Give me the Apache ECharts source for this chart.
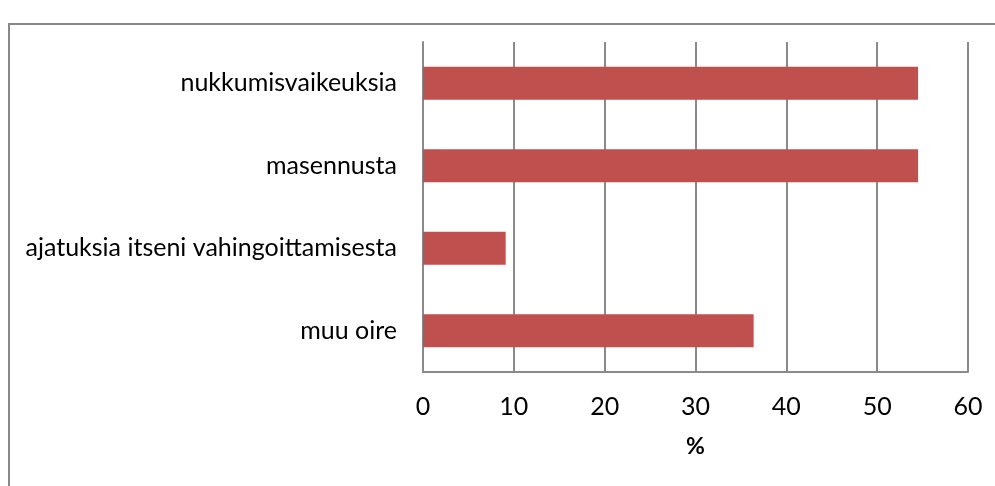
<!DOCTYPE html>
<html>
<head>
<meta charset="utf-8">
<script src="https://cdn.jsdelivr.net/npm/echarts@6/dist/echarts.min.js"></script>
<style>
html,body{margin:0;padding:0;background:#fff;}
#frame{position:absolute;left:8px;top:23px;width:995px;height:480px;border-left:2px solid #898989;border-top:2px solid #898989;box-sizing:border-box;}
#chart{position:absolute;left:0;top:0;width:995px;height:486px;}
</style>
</head>
<body>
<div id="frame"></div>
<div id="chart"></div>
<script>
const categories = ["nukkumisvaikeuksia", "masennusta", "ajatuksia itseni vahingoittamisesta", "muu oire"];
const values = [54.5, 54.5, 9.1, 36.4];
const xTicks = [0, 10, 20, 30, 40, 50, 60];
const axisTitle = "%";

const chart = echarts.init(document.getElementById('chart'), null, {renderer: 'canvas'});
const font = 'Lato';
chart.setOption({
  animation: false,
  grid: {left: 423, right: 27, top: 42, bottom: 114, containLabel: false},
  xAxis: {
    type: 'value',
    min: xTicks[0],
    max: xTicks[xTicks.length - 1],
    interval: 10,
    name: axisTitle,
    nameLocation: 'middle',
    nameGap: 63,
    nameTextStyle: {fontFamily: font, fontSize: 23, fontWeight: 'bold', color: '#000'},
    axisLine: {show: true, lineStyle: {color: '#8a8a8a', width: 2}},
    axisTick: {show: false},
    axisLabel: {margin: 22, fontFamily: font, fontSize: 25, color: '#000'},
    splitLine: {show: true, lineStyle: {color: '#8a8a8a', width: 2}}
  },
  yAxis: {
    type: 'category',
    data: categories,
    inverse: true,
    axisLine: {show: true, lineStyle: {color: '#8a8a8a', width: 2}},
    axisTick: {show: false},
    axisLabel: {margin: 26, fontFamily: font, fontSize: 25, color: '#000'}
  },
  series: [{
    type: 'bar',
    data: values,
    barWidth: '40%',
    itemStyle: {color: '#C0504D'}
  }]
});
</script>
</body>
</html>
